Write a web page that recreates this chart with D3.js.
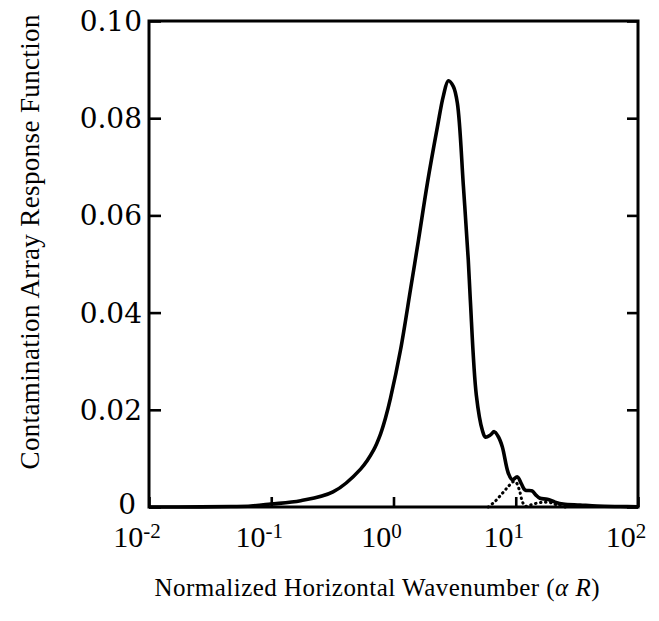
<!DOCTYPE html>
<html>
<head>
<meta charset="utf-8">
<script src="https://cdn.jsdelivr.net/npm/d3@7"></script>
<style>
	body { margin: 0; background: #fff; }
	text { font-family: "Liberation Serif", "DejaVu Serif", serif; fill: #000; }
</style>
</head>
<body>
<script>
// values (log-spaced wavenumber, response)
const solidK = [0.01, 0.0266, 0.047, 0.068, 0.099, 0.174, 0.32, 0.538, 0.687, 0.783, 0.86, 0.945, 1.141, 1.376, 1.60, 1.895, 2.287, 2.559, 2.81, 3.09, 3.33, 3.73, 4.09, 4.25, 4.76, 5.33, 5.64, 6.19, 6.67, 7.19, 7.76, 8.68, 9.36, 10.3, 11.1, 11.9, 13.6, 14.7, 15.8, 18.1, 21.0, 24.4, 33.6, 46.3, 71.3, 100];
const solidR = [0, 0.00002, 0.0001, 0.0002, 0.0006, 0.0013, 0.0031, 0.0078, 0.0117, 0.0150, 0.0183, 0.0224, 0.0323, 0.0447, 0.0549, 0.0667, 0.0782, 0.0846, 0.0877, 0.0865, 0.0831, 0.066, 0.0508, 0.0426, 0.023, 0.0158, 0.0144, 0.0148, 0.0155, 0.0145, 0.0124, 0.007, 0.0056, 0.0062, 0.0048, 0.0035, 0.0033, 0.0024, 0.0018, 0.0016, 0.0010, 0.0006, 0.0004, 0.0002, 0.0001, 0.00005];

const dotK = [5.96, 6.80, 7.76, 8.68, 9.54, 10.1, 10.7, 11.3, 11.9, 13.1, 15.0, 17.4, 19.9, 22.2, 25.4];
const dotR = [0, 0.0012, 0.0028, 0.0042, 0.0052, 0.0050, 0.0035, 0.0012, 0.0002, 0.0004, 0.0008, 0.0010, 0.0008, 0.0003, 0];

const xTicks = [1e-2, 1e-1, 1e0, 1e1, 1e2];
const xExp = ["-2", "-1", "0", "1", "2"];
const yTicks = [0, 0.02, 0.04, 0.06, 0.08, 0.10];
const yLabels = ["0", "0.02", "0.04", "0.06", "0.08", "0.10"];

const width = 659, height = 621;
const margin = {top: 21, right: 21, bottom: 114, left: 149};

const svg = d3.select("body").append("svg")
	.attr("width", width)
	.attr("height", height);

const x = d3.scaleLog().domain([1e-2, 1e2]).range([margin.left, width - margin.right]);
const y = d3.scaleLinear().domain([0, 0.1]).range([height - margin.bottom, margin.top]);

// curves
const line = d3.line()
	.x(d => x(d[0]))
	.y(d => Math.min(y(d[1]), y(0)))
	.curve(d3.curveCatmullRom.alpha(0.5));

svg.append("path")
	.datum(dotK.map((k, i) => [k, dotR[i]]))
	.attr("d", line)
	.attr("fill", "none")
	.attr("stroke", "#000")
	.attr("stroke-width", 3)
	.attr("stroke-linecap", "round")
	.attr("stroke-dasharray", "0.5,4.5");

svg.append("path")
	.datum(solidK.map((k, i) => [k, solidR[i]]))
	.attr("d", line)
	.attr("fill", "none")
	.attr("stroke", "#000")
	.attr("stroke-width", 3.6)
	.attr("stroke-linejoin", "round");

// axes: ticks inward, labels drawn by hand below
const bottomAxis = d3.axisBottom(x).tickValues(xTicks).tickSize(-10).tickFormat("");
const leftAxis = d3.axisLeft(y).tickValues(yTicks).tickSize(-12).tickFormat("");
const rightAxis = d3.axisRight(y).tickValues(yTicks).tickSize(-11).tickFormat("");

[
	[bottomAxis, `translate(0,${height - margin.bottom})`],
	[leftAxis, `translate(${margin.left},0)`],
	[rightAxis, `translate(${width - margin.right},0)`]
].forEach(([ax, t]) => {
	const g = svg.append("g").attr("transform", t).call(ax);
	g.select(".domain").remove();
	g.selectAll("line").attr("stroke", "#000").attr("stroke-width", 2.6);
});

// frame
svg.append("rect")
	.attr("x", margin.left)
	.attr("y", margin.top)
	.attr("width", width - margin.left - margin.right)
	.attr("height", height - margin.top - margin.bottom)
	.attr("fill", "none")
	.attr("stroke", "#000")
	.attr("stroke-width", 3);

// y tick labels
svg.selectAll(".ylab")
	.data(yTicks)
	.enter().append("text")
	.attr("class", "ylab")
	.attr("x", d => d === 0 ? margin.left - 13 : margin.left - 7)
	.attr("y", d => d === 0 ? y(d) - 3 : y(d))
	.attr("dy", "0.36em")
	.attr("text-anchor", "end")
	.style("font-family", "'DejaVu Serif', serif")
	.attr("font-size", 28)
	.text((d, i) => yLabels[i]);

// x tick labels 10^n
const xl = svg.selectAll(".xlab")
	.data(xTicks)
	.enter().append("text")
	.attr("class", "xlab")
	.attr("x", d => x(d) - 12)
	.attr("y", height - margin.bottom + 40)
	.attr("text-anchor", "middle")
	.attr("font-size", 30);
xl.append("tspan").text("10");
xl.append("tspan")
	.attr("font-size", 21)
	.attr("dy", -9)
	.text((d, i) => xExp[i]);

// axis titles
const xt = svg.append("text")
	.attr("x", 377)
	.attr("y", 596)
	.attr("text-anchor", "middle")
	.attr("font-size", 25)
	.attr("textLength", 445)
	.attr("lengthAdjust", "spacing");
xt.append("tspan").text("Normalized Horizontal Wavenumber (");
xt.append("tspan").attr("font-style", "italic").text("\u03B1 R");
xt.append("tspan").text(")");

svg.append("text")
	.attr("transform", "translate(39,242) rotate(-90)")
	.attr("text-anchor", "middle")
	.attr("font-size", 27)
	.attr("textLength", 455)
	.attr("lengthAdjust", "spacing")
	.text("Contamination Array Response Function");
</script>
</body>
</html>
